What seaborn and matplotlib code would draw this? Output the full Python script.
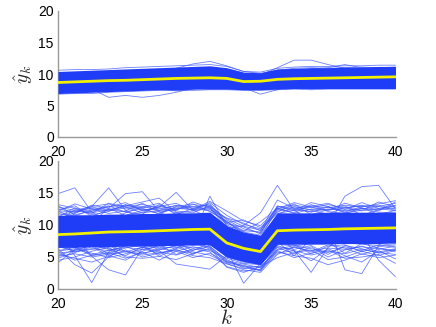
import numpy as np
import pandas as pd
import matplotlib
matplotlib.use("Agg")
import matplotlib.pyplot as plt
import seaborn as sns

k = list(range(20, 41))

# ---- top panel ----
top_mean = [8.65, 8.75, 8.85, 8.95, 9.0, 9.1, 9.2, 9.3, 9.35, 9.4, 9.3, 8.8, 8.85, 9.15, 9.25, 9.3, 9.35, 9.4, 9.45, 9.5, 9.55]
top_lo = [6.9, 7.0, 7.1, 7.2, 7.3, 7.4, 7.5, 7.5, 7.6, 7.6, 7.6, 7.5, 7.5, 7.6, 7.7, 7.7, 7.7, 7.7, 7.7, 7.7, 7.7]
top_hi = [10.4, 10.5, 10.6, 10.7, 10.8, 10.9, 11.0, 11.1, 11.2, 11.3, 11.0, 10.3, 10.2, 10.8, 10.9, 11.0, 11.0, 11.1, 11.1, 11.2, 11.2]
top_lines = [
    [8.5, 8.3, 7.6, 6.3, 6.6, 6.3, 6.6, 7.1, 7.7, 8.3, 8.6, 8.4, 8.6, 8.9, 9.0, 9.1, 9.2, 9.1, 9.3, 9.4, 9.3],
    [9.5, 9.6, 9.8, 10.0, 10.2, 10.4, 10.6, 10.9, 11.6, 12.0, 11.3, 10.4, 10.1, 10.6, 10.9, 11.0, 10.9, 11.0, 11.1, 11.0, 11.1],
    [9.0, 8.8, 9.1, 9.0, 9.2, 9.1, 9.3, 9.2, 9.4, 9.3, 8.6, 7.8, 6.8, 7.5, 8.3, 8.8, 9.0, 9.2, 9.1, 9.3, 9.4],
    [9.6, 9.5, 9.7, 9.6, 9.8, 9.7, 9.9, 9.8, 10.0, 10.1, 9.9, 9.6, 9.8, 11.0, 12.2, 12.2, 11.5, 10.9, 10.6, 10.5, 10.6],
    [9.9, 10.0, 10.1, 10.2, 10.3, 10.4, 10.5, 10.6, 10.7, 10.8, 10.6, 10.0, 9.9, 10.4, 10.6, 10.8, 11.0, 11.5, 11.0, 10.9, 11.0],
    [10.6, 10.7, 10.7, 10.8, 11.0, 11.1, 11.2, 11.3, 11.4, 11.5, 11.2, 10.4, 10.3, 10.9, 11.1, 11.2, 11.2, 11.3, 11.3, 11.4, 11.4],
    [6.8, 6.9, 6.9, 7.1, 7.2, 7.3, 7.4, 7.4, 7.4, 7.5, 7.5, 7.4, 7.4, 7.5, 7.6, 7.5, 7.6, 7.6, 7.6, 7.6, 7.6],
    [7.1, 7.2, 7.4, 7.6, 7.5, 7.6, 7.7, 7.3, 7.6, 7.9, 7.8, 7.7, 7.8, 8.0, 7.9, 7.6, 7.9, 8.0, 8.1, 7.9, 8.0],
]

# ---- bottom panel ----
bot_mean = [8.5, 8.6, 8.75, 8.9, 8.95, 9.0, 9.1, 9.2, 9.3, 9.35, 7.2, 6.35, 5.85, 9.1, 9.2, 9.25, 9.3, 9.4, 9.45, 9.5, 9.55]
bot_lo = [6.5, 6.5, 6.6, 6.6, 6.7, 6.7, 6.8, 6.8, 6.9, 6.9, 5.0, 4.3, 3.8, 7.0, 7.0, 7.0, 7.1, 7.1, 7.1, 7.1, 7.2]
bot_hi = [11.5, 11.6, 11.6, 11.7, 11.7, 11.8, 11.8, 11.9, 11.9, 12.0, 9.9, 8.9, 8.4, 11.9, 11.9, 11.9, 12.0, 12.0, 12.0, 12.0, 12.0]
bot_lines = [
    [14.9, 15.8, 12.0, 10.5, 9.8, 10.2, 9.6, 10.0, 10.4, 10.1, 7.6, 6.8, 6.1, 9.8, 10.2, 9.9, 10.1, 9.7, 10.0, 10.3, 9.9],
    [4.1, 6.2, 8.4, 9.0, 8.7, 9.2, 8.9, 9.4, 9.1, 9.6, 7.2, 6.0, 5.7, 9.1, 9.4, 8.9, 9.3, 9.6, 9.2, 9.5, 9.8],
    [10.2, 11.8, 12.9, 15.8, 12.3, 10.9, 10.1, 9.8, 10.3, 10.6, 7.9, 6.6, 6.2, 9.7, 10.0, 10.3, 9.8, 10.1, 10.4, 9.9, 10.2],
    [8.8, 5.2, 1.0, 5.8, 7.4, 8.6, 9.1, 9.4, 8.9, 9.3, 6.9, 6.1, 5.4, 9.0, 9.2, 9.5, 9.1, 8.8, 9.4, 9.6, 9.3],
    [9.1, 8.0, 5.1, 3.0, 2.2, 6.4, 8.3, 9.0, 9.5, 9.2, 7.0, 5.8, 5.6, 9.3, 9.1, 9.4, 9.7, 9.3, 9.0, 9.5, 9.7],
    [12.2, 11.0, 10.4, 12.6, 14.9, 15.2, 12.1, 10.6, 10.0, 10.4, 7.7, 6.7, 6.4, 10.1, 9.8, 10.2, 10.4, 10.0, 9.7, 10.1, 10.5],
    [9.5, 10.0, 11.3, 12.4, 13.0, 13.6, 14.2, 12.0, 10.8, 10.9, 8.4, 7.0, 6.3, 9.9, 10.3, 10.0, 9.6, 10.2, 10.6, 10.2, 10.0],
    [9.8, 9.4, 10.2, 10.8, 11.5, 12.0, 12.8, 15.1, 12.3, 11.2, 8.2, 6.9, 6.5, 10.4, 10.1, 9.7, 10.3, 10.5, 10.2, 9.8, 10.4],
    [7.2, 8.3, 8.9, 9.2, 8.6, 7.0, 5.1, 6.3, 8.2, 14.5, 9.8, 7.9, 6.8, 10.0, 9.6, 10.2, 9.9, 10.4, 9.8, 10.1, 9.7],
    [8.0, 7.4, 7.1, 6.3, 5.8, 6.5, 6.0, 3.9, 3.5, 3.1, 5.2, 4.5, 4.2, 8.3, 8.8, 8.5, 8.9, 8.6, 9.0, 8.7, 8.4],
    [9.6, 9.3, 9.8, 10.1, 9.5, 9.9, 10.2, 9.7, 10.0, 10.1, 9.4, 9.9, 11.9, 16.2, 12.3, 10.6, 10.1, 9.8, 10.3, 10.0, 10.2],
    [9.0, 9.2, 8.7, 9.4, 9.1, 8.8, 9.3, 9.5, 9.2, 9.4, 6.1, 0.9, 4.0, 8.6, 9.0, 9.2, 8.9, 9.4, 9.1, 9.3, 9.0],
    [9.3, 9.0, 9.5, 9.2, 9.7, 9.4, 9.6, 9.9, 9.5, 9.8, 7.4, 6.4, 5.9, 9.5, 9.7, 9.3, 9.9, 14.5, 16.0, 16.2, 12.5],
    [8.7, 9.1, 9.3, 8.9, 9.2, 9.6, 9.0, 9.4, 9.7, 9.5, 7.1, 6.2, 5.8, 9.2, 8.8, 9.1, 9.4, 9.0, 8.5, 4.5, 1.9],
    [9.1, 9.4, 9.0, 9.3, 9.5, 9.2, 9.7, 9.3, 9.6, 9.4, 7.0, 6.0, 5.6, 8.7, 6.0, 2.6, 6.5, 8.4, 9.0, 9.3, 9.5],
    [9.4, 9.6, 9.2, 9.7, 9.3, 9.8, 9.5, 9.9, 9.6, 9.9, 7.3, 6.3, 5.9, 9.4, 9.9, 9.6, 10.0, 3.0, 2.4, 6.8, 9.1],
    [5.6, 5.9, 6.3, 6.0, 6.5, 6.2, 6.6, 6.4, 6.8, 7.0, 5.0, 4.2, 3.9, 7.0, 6.7, 7.1, 6.9, 7.2, 7.0, 6.8, 7.1],
    [12.0, 12.2, 11.9, 12.4, 12.1, 12.5, 12.3, 12.6, 12.4, 12.8, 10.0, 8.9, 8.4, 12.2, 12.4, 12.1, 12.5, 12.3, 12.6, 12.4, 12.7],
    [5.1, 5.5, 5.0, 5.4, 5.8, 5.3, 5.7, 6.0, 5.6, 6.2, 4.3, 3.6, 3.4, 6.1, 6.5, 6.0, 6.4, 6.2, 6.6, 6.3, 6.0],
    [12.5, 12.0, 12.8, 12.3, 12.9, 13.2, 12.6, 13.0, 12.8, 13.1, 10.8, 9.4, 8.8, 12.9, 12.5, 13.0, 12.7, 13.1, 12.8, 13.3, 13.8],
    [6.0, 6.5, 5.6, 4.9, 5.5, 6.2, 5.8, 5.3, 6.1, 6.6, 4.6, 3.3, 3.0, 5.6, 6.0, 5.3, 5.9, 5.5, 6.2, 5.7, 5.4],
    [11.5, 12.1, 12.6, 11.8, 12.2, 13.4, 12.0, 12.5, 12.9, 12.4, 11.1, 10.3, 9.1, 13.9, 12.6, 12.0, 12.8, 12.2, 12.5, 12.9, 13.4],
    [5.4, 4.8, 4.2, 5.1, 6.1, 5.0, 5.6, 6.2, 5.2, 4.9, 3.9, 3.2, 3.6, 5.8, 5.2, 4.8, 3.8, 4.5, 5.5, 4.9, 5.3],
    [11.8, 11.4, 12.4, 13.0, 12.0, 11.7, 13.2, 12.2, 11.9, 13.0, 10.3, 9.0, 10.5, 12.6, 11.9, 13.2, 12.1, 11.8, 12.6, 12.0, 11.9],
    [6.6, 6.0, 6.8, 5.5, 6.4, 7.0, 6.2, 6.7, 7.1, 6.5, 4.1, 3.5, 2.9, 6.5, 5.5, 6.6, 5.0, 6.1, 6.7, 5.8, 6.3],
    [11.2, 12.7, 11.6, 12.1, 13.2, 12.4, 11.8, 12.9, 13.3, 12.1, 10.6, 8.6, 7.9, 11.6, 12.9, 12.3, 11.7, 12.8, 12.2, 12.6, 13.0],
    [4.8, 5.7, 6.6, 5.2, 4.5, 5.9, 6.9, 5.4, 6.3, 5.8, 3.5, 2.8, 3.1, 6.8, 5.9, 4.4, 6.3, 5.2, 4.2, 6.0, 4.7],
    [10.8, 9.6, 8.2, 7.6, 9.3, 10.6, 11.3, 10.2, 8.7, 9.8, 8.7, 7.4, 7.0, 11.4, 10.6, 9.4, 10.9, 11.5, 9.7, 10.6, 11.5],
    [7.5, 8.6, 10.4, 9.5, 7.8, 7.3, 8.4, 9.8, 10.6, 8.6, 6.3, 5.4, 5.0, 8.0, 7.6, 8.7, 7.9, 7.4, 8.3, 7.7, 7.8],
    [6.3, 3.8, 2.5, 5.0, 6.8, 7.6, 6.4, 7.3, 6.0, 7.2, 5.6, 4.8, 4.5, 7.4, 5.2, 7.8, 7.3, 5.6, 7.1, 6.4, 5.8],
    [12.4, 13.0, 11.3, 10.8, 11.9, 12.8, 13.4, 11.6, 12.6, 13.3, 10.4, 10.8, 9.6, 12.0, 13.3, 11.6, 12.4, 13.0, 11.5, 12.4, 13.1],
    [7.9, 7.0, 7.7, 8.2, 7.2, 7.9, 7.5, 8.1, 7.6, 8.1, 5.9, 5.2, 4.8, 7.8, 8.1, 7.6, 8.0, 7.9, 7.5, 8.2, 8.0],
    [5.9, 6.3, 5.4, 6.0, 6.7, 5.6, 6.1, 6.8, 6.4, 6.7, 4.4, 3.9, 3.3, 6.2, 6.8, 6.3, 5.7, 6.6, 6.0, 6.9, 6.5],
    [12.8, 12.3, 12.9, 13.3, 12.5, 12.7, 13.0, 12.4, 13.2, 12.9, 11.0, 9.8, 9.2, 12.8, 13.1, 12.7, 13.2, 12.6, 13.0, 12.9, 12.3],
    [5.2, 6.1, 6.8, 6.2, 5.2, 6.6, 5.4, 6.5, 5.8, 5.3, 4.0, 3.0, 2.6, 5.4, 6.6, 5.8, 6.9, 6.4, 5.4, 6.2, 6.7],
    [13.2, 12.6, 12.1, 12.8, 13.5, 12.2, 12.9, 13.4, 12.2, 12.6, 10.2, 9.7, 8.6, 13.0, 12.2, 12.9, 13.4, 12.4, 13.5, 12.6, 12.2],
    [6.8, 5.8, 6.2, 6.7, 5.9, 5.5, 6.3, 5.9, 6.6, 6.0, 4.8, 4.0, 3.8, 6.6, 6.2, 6.8, 5.4, 6.8, 6.3, 5.6, 6.2],
    [12.1, 13.3, 12.5, 12.2, 12.7, 12.9, 12.3, 13.1, 12.6, 12.2, 10.5, 9.1, 8.9, 12.4, 12.8, 12.4, 12.9, 12.0, 12.9, 13.1, 12.5],
    [4.5, 5.0, 5.9, 6.5, 5.0, 4.8, 5.1, 4.6, 5.5, 6.4, 3.4, 2.6, 3.5, 4.9, 5.7, 6.1, 4.6, 5.0, 5.9, 5.2, 6.1],
    [11.0, 11.9, 13.1, 12.6, 11.5, 12.3, 12.7, 11.9, 12.2, 13.5, 11.5, 10.1, 9.4, 11.8, 12.3, 13.5, 12.9, 11.9, 12.3, 13.6, 12.8],
    [7.0, 6.6, 5.2, 5.6, 6.9, 6.5, 6.7, 7.0, 5.4, 6.9, 5.4, 4.6, 4.1, 7.1, 6.9, 5.5, 6.7, 6.9, 5.8, 6.6, 6.9],
    [10.5, 12.4, 11.8, 13.4, 12.8, 11.9, 12.2, 12.3, 13.6, 12.7, 9.6, 8.3, 8.0, 12.7, 11.8, 12.5, 12.3, 13.4, 12.7, 11.6, 12.3],
    [5.8, 4.5, 5.3, 5.7, 4.8, 5.8, 4.5, 5.9, 4.9, 5.6, 4.2, 3.7, 2.8, 6.0, 4.9, 5.6, 6.1, 4.8, 5.0, 5.4, 4.0],
    [13.0, 11.6, 12.2, 12.9, 13.1, 12.6, 11.7, 12.8, 12.4, 13.7, 12.2, 10.6, 9.9, 12.5, 13.5, 12.8, 12.3, 12.7, 13.1, 12.2, 13.6],
]

x_ticks = [20, 25, 30, 35, 40]
y_ticks = [0, 5, 10, 15, 20]

sns.set_style("white")
plt.rcParams["font.family"] = ["Liberation Sans", "DejaVu Sans"]
plt.rcParams["mathtext.fontset"] = "cm"

BAND = "#1f3cf7"
LINE = "#3a55ff"
YEL = "#f2f200"
AXC = "#9a9a9a"

fig = plt.figure(figsize=(4.36, 3.27), dpi=100)
ax1 = fig.add_axes([58 / 436, 1 - 137 / 327, (395.5 - 58) / 436, 126 / 327])
ax2 = fig.add_axes([58 / 436, 1 - 289 / 327, (395.5 - 58) / 436, 128 / 327])


def draw(ax, lines, lo, hi, mean):
    df = pd.DataFrame(
        [(i, kk, v) for i, ln in enumerate(lines) for kk, v in zip(k, ln)],
        columns=["run", "k", "y"],
    )
    sns.lineplot(data=df, x="k", y="y", units="run", estimator=None,
                 color=LINE, lw=0.6, alpha=0.75, ax=ax, legend=False)
    ax.fill_between(k, lo, hi, color=BAND, lw=0, zorder=3)
    sns.lineplot(x=k, y=mean, color=YEL, lw=2.0, ax=ax, zorder=4)
    ax.set_xlim(20, 40)
    ax.set_ylim(0, 20)
    ax.set_xticks(x_ticks)
    ax.set_yticks(y_ticks)
    ax.set_xlabel("")
    ax.set_ylabel(r"$\hat{y}_k$", fontsize=14, labelpad=2)
    for s in ["top", "right"]:
        ax.spines[s].set_visible(False)
    for s in ["left", "bottom"]:
        ax.spines[s].set_color(AXC)
        ax.spines[s].set_linewidth(1.0)
    ax.tick_params(direction="in", length=3, width=0.8, color=AXC,
                   labelsize=10, labelcolor="black")
    ax.tick_params(axis="y", pad=3)
    ax.tick_params(axis="x", pad=5.5)


draw(ax1, top_lines, top_lo, top_hi, top_mean)
draw(ax2, bot_lines, bot_lo, bot_hi, bot_mean)
ax2.set_xlabel(r"$k$", fontsize=15, labelpad=-1)

fig.savefig("out.png", dpi=100)
